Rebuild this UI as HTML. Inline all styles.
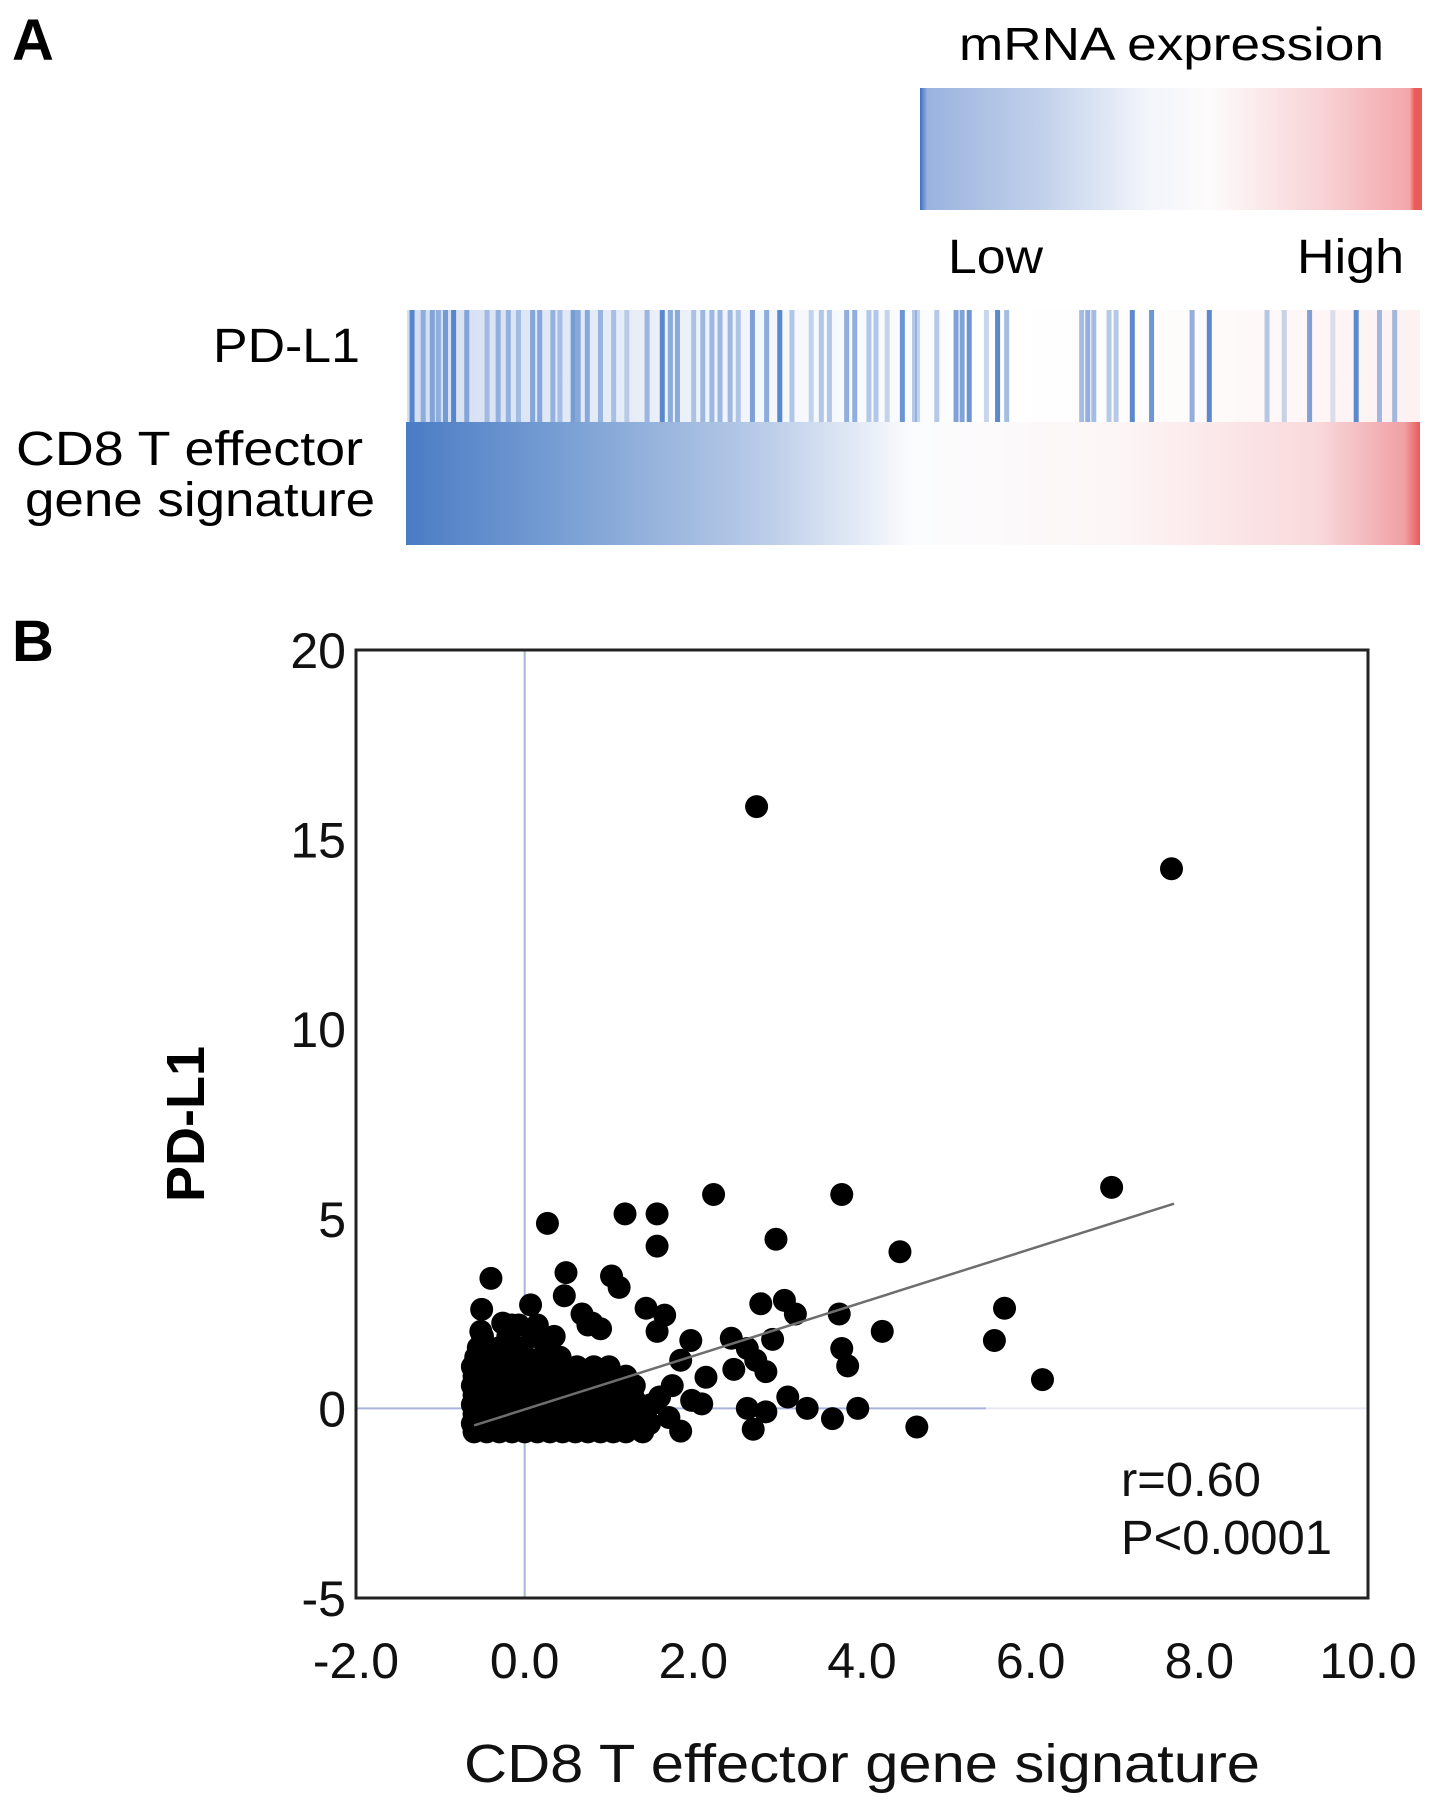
<!DOCTYPE html>
<html><head><meta charset="utf-8"><style>
html,body{margin:0;padding:0;background:#fff}
svg{display:block;font-family:"Liberation Sans",Arial,sans-serif}
</style></head><body>
<svg id="fig" width="1441" height="1807" viewBox="0 0 1441 1807">
<defs>
<linearGradient id="legGrad" x1="0" x2="1" y1="0" y2="0">
<stop offset="0" stop-color="#3f6fc4"/><stop offset="0.015" stop-color="#9ab3de"/>
<stop offset="0.25" stop-color="#c3d2eb"/><stop offset="0.45" stop-color="#f2f5fb"/>
<stop offset="0.58" stop-color="#fdfbfb"/><stop offset="0.8" stop-color="#f8d3d6"/>
<stop offset="0.975" stop-color="#f3a6aa"/><stop offset="0.985" stop-color="#ec5a5a"/>
<stop offset="1" stop-color="#ec5a5a"/></linearGradient>
<linearGradient id="cd8Grad" x1="0" x2="1" y1="0" y2="0">
<stop offset="0" stop-color="#4a7cc4"/><stop offset="0.15" stop-color="#779ed3"/>
<stop offset="0.35" stop-color="#b9cbe8"/><stop offset="0.5" stop-color="#fbfcfe"/>
<stop offset="0.7" stop-color="#fdf6f6"/><stop offset="0.9" stop-color="#f9d9dc"/>
<stop offset="0.985" stop-color="#f0a0a4"/><stop offset="1" stop-color="#e85a5a"/></linearGradient>
<linearGradient id="pdBg" x1="0" x2="1" y1="0" y2="0">
<stop offset="0" stop-color="#d3def1"/><stop offset="0.35" stop-color="#f3f6fb"/>
<stop offset="0.6" stop-color="#ffffff"/><stop offset="0.8" stop-color="#fefafa"/>
<stop offset="1" stop-color="#fdf1f2"/></linearGradient>
</defs>

<text x="12" y="60" font-size="58" font-weight="bold">A</text>
<text x="959" y="60" font-size="46" textLength="425" lengthAdjust="spacingAndGlyphs">mRNA expression</text>
<rect x="920" y="88" width="502" height="122" fill="url(#legGrad)"/>
<text x="948" y="273" font-size="48" textLength="95" lengthAdjust="spacingAndGlyphs">Low</text>
<text x="1297" y="273" font-size="48" textLength="107" lengthAdjust="spacingAndGlyphs">High</text>
<text x="360" y="362" font-size="48" text-anchor="end" textLength="147" lengthAdjust="spacingAndGlyphs">PD-L1</text>
<text x="16" y="465" font-size="48" textLength="347" lengthAdjust="spacingAndGlyphs">CD8  T effector</text>
<text x="25" y="516" font-size="48" textLength="350" lengthAdjust="spacingAndGlyphs">gene signature</text>

<rect x="407" y="310" width="1013" height="112" fill="url(#pdBg)"/>
<g id="pdLines"></g>
<rect x="406" y="422" width="1014" height="123" fill="url(#cd8Grad)"/>

<text x="12" y="661" font-size="58" font-weight="bold">B</text>
<g id="plot"></g>
</svg>
<script>
// PD-L1 heatmap: sample positions (rank 0..1000 along strip) and expression levels
const pdRank = [5,16,25,31,38,46,59,79,90,100,110,124,131,144,151,164,169,178,191,204,217,237,252,260,267,283,292,301,309,319,327,341,355,368,380,399,409,417,434,442,456,463,474,489,501,504,523,542,548,555,572,583,592,666,672,678,693,700,716,735,775,792,849,866,891,914,937,960,975];
const pdLevel = [0.9,0.5,0.6,0.5,0.7,0.9,0.6,0.4,0.5,0.5,0.4,0.6,0.6,0.5,0.4,0.7,0.6,0.6,0.5,0.4,0.3,0.5,0.9,0.6,0.6,0.4,0.5,0.5,0.5,0.5,0.4,0.7,0.6,0.9,0.4,0.3,0.4,0.4,0.6,0.6,0.4,0.4,0.3,0.8,0.4,0.3,0.4,0.7,0.7,0.8,0.3,0.9,0.5,0.5,0.6,0.5,0.4,0.4,0.9,0.8,0.6,0.9,0.4,0.3,0.7,0.2,0.9,0.5,0.5];

// Scatter data: CD8 T effector signature (x) vs PD-L1 (y)
const clusterPts = [
[-0.6,-0.62],[-0.45,-0.62],[-0.3,-0.62],[-0.15,-0.62],[0,-0.62],[0.15,-0.62],[0.3,-0.62],[0.45,-0.62],[0.6,-0.62],[0.75,-0.62],[0.9,-0.62],[1.05,-0.62],[1.2,-0.62],[1.4,-0.62],
[-0.62,-0.4],[-0.48,-0.4],[-0.32,-0.4],[-0.18,-0.4],[-0.02,-0.4],[0.12,-0.4],[0.28,-0.4],[0.42,-0.4],[0.58,-0.4],[0.72,-0.4],[0.88,-0.4],[1.02,-0.4],[1.18,-0.4],[1.32,-0.4],[1.48,-0.4],
[-0.6,-0.15],[-0.44,-0.15],[-0.3,-0.15],[-0.14,-0.15],[0.02,-0.15],[0.16,-0.15],[0.32,-0.15],[0.46,-0.15],[0.62,-0.15],[0.76,-0.15],[0.92,-0.15],[1.06,-0.15],[1.22,-0.15],[1.38,-0.15],
[-0.62,0.1],[-0.46,0.1],[-0.32,0.1],[-0.16,0.1],[0,0.1],[0.14,0.1],[0.3,0.1],[0.44,0.1],[0.6,0.1],[0.74,0.1],[0.9,0.1],[1.04,0.1],[1.2,0.1],[1.36,0.1],[1.5,0.1],
[-0.6,0.35],[-0.44,0.35],[-0.28,0.35],[-0.12,0.35],[0.04,0.35],[0.2,0.35],[0.34,0.35],[0.5,0.35],[0.66,0.35],[0.8,0.35],[0.96,0.35],[1.1,0.35],[1.28,0.35],
[-0.62,0.6],[-0.46,0.6],[-0.3,0.6],[-0.14,0.6],[0.02,0.6],[0.18,0.6],[0.32,0.6],[0.48,0.6],[0.64,0.6],[0.8,0.6],[0.94,0.6],[1.1,0.6],[1.3,0.6],
[-0.6,0.85],[-0.44,0.85],[-0.28,0.85],[-0.1,0.85],[0.06,0.85],[0.22,0.85],[0.38,0.85],[0.54,0.85],[0.7,0.85],[0.86,0.85],[1.02,0.85],[1.2,0.85],
[-0.62,1.1],[-0.45,1.1],[-0.28,1.1],[-0.1,1.1],[0.08,1.1],[0.26,1.1],[0.44,1.1],[0.62,1.1],[0.82,1.1],[1.0,1.1],
[-0.58,1.35],[-0.4,1.35],[-0.2,1.35],[0.02,1.35],[0.22,1.35],[0.42,1.35],
[-0.55,1.6],[-0.3,1.6],[-0.05,1.6],[0.25,1.6],
[-0.5,1.9],[-0.2,1.9],[0.1,1.9],[0.35,1.9],
[-0.15,2.2],[0.15,2.2],[0.75,2.2],[0.9,2.1]];
const outlierPts = [
[2.75,15.87],[7.67,14.23],[6.96,5.83],[3.76,5.64],[2.24,5.64],[0.27,4.88],[1.19,5.13],[1.57,5.13],[1.57,4.28],[2.98,4.46],[4.45,4.13],
[-0.4,3.43],[0.49,3.58],[1.03,3.49],[1.12,3.19],[0.47,2.97],[0.07,2.73],[-0.51,2.61],[1.44,2.64],[1.66,2.46],[2.8,2.76],[3.08,2.85],[3.21,2.49],[3.73,2.49],[5.69,2.64],
[-0.52,2.03],[-0.26,2.25],[-0.07,2.2],[0.68,2.49],[0.8,2.25],[1.57,2.03],[1.97,1.79],[4.24,2.03],[5.57,1.79],[2.45,1.85],[2.64,1.58],[2.94,1.82],[2.74,1.27],[3.76,1.58],[3.83,1.12],[6.14,0.76],
[2.48,1.03],[2.86,0.97],[1.85,1.27],[2.15,0.82],[1.98,0.21],[2.1,0.12],[2.64,0],[2.86,-0.09],[3.12,0.3],[3.35,0],[3.65,-0.27],[3.95,0],[4.65,-0.49],[2.71,-0.55],[1.71,-0.24],[1.85,-0.6],[1.6,0.3],[1.75,0.6]];
const regLine = [[-0.6,-0.45],[7.7,5.4]];
const xTicks = [-2,0,2,4,6,8,10];
const xTickLabels = ["-2.0","0.0","2.0","4.0","6.0","8.0","10.0"];
const yTicks = [20,15,10,5,0,-5];
const yTickLabels = ["20","15","10","5","0","-5"];

const NS = "http://www.w3.org/2000/svg";
function mk(tag, attrs, parent){ const e=document.createElementNS(NS,tag); for(const k in attrs) e.setAttribute(k,attrs[k]); parent.appendChild(e); return e; }

const stripX0 = 407, stripX1 = 1420;
const pdG = document.getElementById('pdLines');
pdRank.forEach((r,i)=>{
  const x = stripX0 + r/1000*(stripX1-stripX0);
  const l = mk('rect',{x:x-2.5,y:310,width:5,height:112,fill:'#4a7cc8','fill-opacity':pdLevel[i]},pdG);
  
  
});

const L=356,R=1368,T=650,B=1598, xMin=-2,xMax=10,yMin=-5,yMax=20;
const sx = v => L + (v-xMin)/(xMax-xMin)*(R-L);
const sy = v => B - (v-yMin)/(yMax-yMin)*(B-T);
const g = document.getElementById('plot');

const vz = mk('line',{x1:sx(0),x2:sx(0),y1:T,y2:B,stroke:'#a9b3dc','stroke-width':2},g);


const hz = mk('line',{x1:L,x2:sx(5.47),y1:sy(0),y2:sy(0),stroke:'#a9b3dc','stroke-width':2},g);


const hz2 = mk('line',{x1:sx(5.47),x2:R,y1:sy(0),y2:sy(0),stroke:'#e6e8f2','stroke-width':2},g);



clusterPts.concat(outlierPts).forEach(p=>{
  const c = mk('circle',{cx:sx(p[0]),cy:sy(p[1]),r:11.5,fill:'#000'},g);
  
  
});

const rl = mk('line',{x1:sx(regLine[0][0]),y1:sy(regLine[0][1]),x2:sx(regLine[1][0]),y2:sy(regLine[1][1]),stroke:'#6e6e6e','stroke-width':2.5},g);



const box = mk('rect',{x:L,y:T,width:R-L,height:B-T,fill:'none',stroke:'#222','stroke-width':3},g);



xTicks.forEach((v,i)=>{
  const t = mk('text',{x:sx(v),y:1678,'font-size':50,'text-anchor':'middle',fill:'#111'},g);
  t.textContent = xTickLabels[i];
  
  
});
yTicks.forEach((v,i)=>{
  const t = mk('text',{x:346,y:sy(v)+18,'font-size':50,'text-anchor':'end',fill:'#111'},g);
  t.textContent = yTickLabels[i];
  
  
});

const xt = mk('text',{x:862,y:1782,'font-size':54,'text-anchor':'middle',textLength:796,lengthAdjust:'spacingAndGlyphs',fill:'#111'},g);
xt.textContent = 'CD8 T effector gene signature';


const yt = mk('text',{x:0,y:0,'font-size':54,'font-weight':'bold','text-anchor':'middle',transform:'translate(204,1124) rotate(-90)',fill:'#000'},g);
yt.textContent = 'PD-L1';



const s1 = mk('text',{x:1121,y:1496,'font-size':48,textLength:140,lengthAdjust:'spacingAndGlyphs',fill:'#111'},g);
s1.textContent = 'r=0.60';


const s2 = mk('text',{x:1121,y:1554,'font-size':48,textLength:211,lengthAdjust:'spacingAndGlyphs',fill:'#111'},g);
s2.textContent = 'P<0.0001';


</script>
</body></html>
